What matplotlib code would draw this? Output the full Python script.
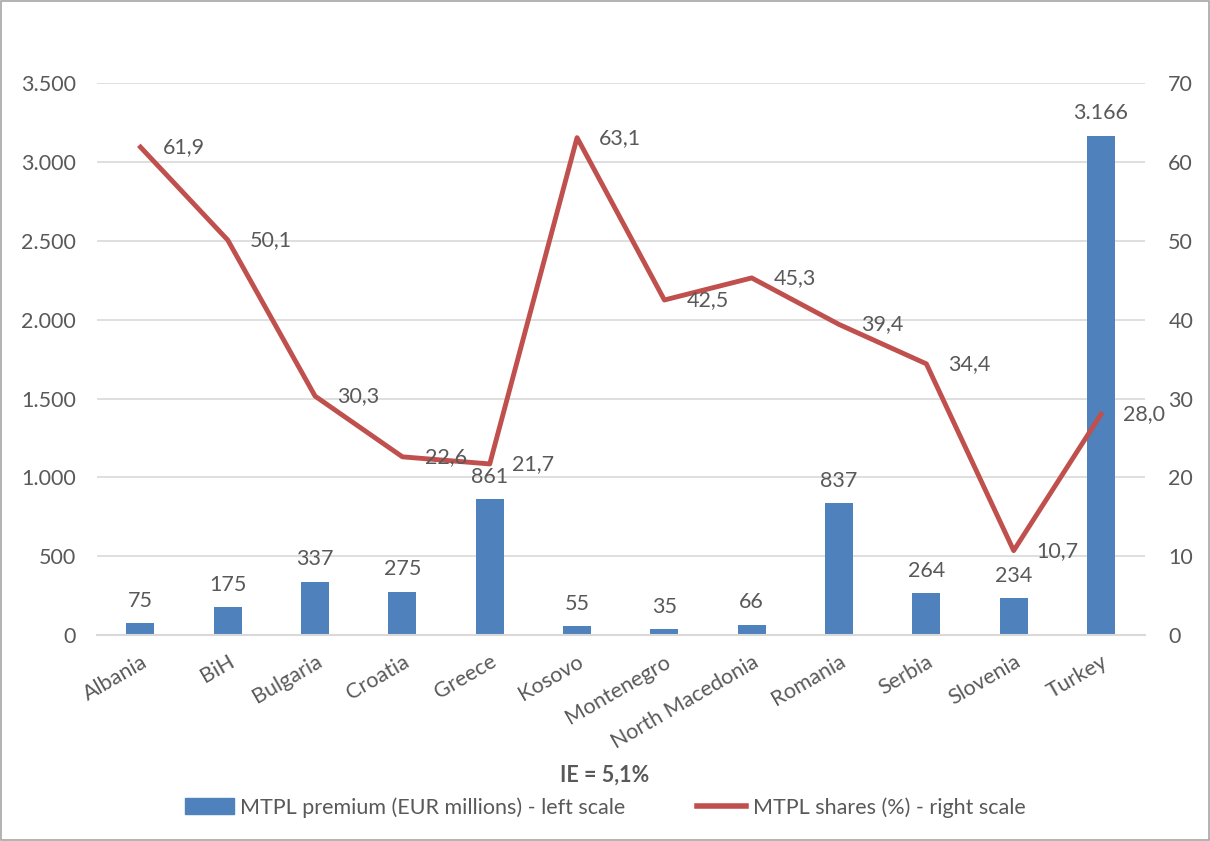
import matplotlib
matplotlib.use("Agg")
import matplotlib.pyplot as plt
from matplotlib.patches import Rectangle, Patch
from matplotlib.lines import Line2D
from matplotlib.ticker import FuncFormatter

countries = ["Albania", "BiH", "Bulgaria", "Croatia", "Greece", "Kosovo", "Montenegro",
             "North Macedonia", "Romania", "Serbia", "Slovenia", "Turkey"]
premium = [75, 175, 337, 275, 861, 55, 35, 66, 837, 264, 234, 3166]
shares = [61.9, 50.1, 30.3, 22.6, 21.7, 63.1, 42.5, 45.3, 39.4, 34.4, 10.7, 28.0]

plt.rcParams['font.family'] = ['Lato', 'DejaVu Sans']
TXT = '#595959'
BLUE = '#4f81bd'
RED = '#c0504d'
FS = 15.5

fig = plt.figure(figsize=(12.1, 8.41), dpi=100)
ax = fig.add_axes([0.080, 0.245, 0.866, 0.656])
ax2 = ax.twinx()

x = list(range(len(countries)))
ax.bar(x, premium, width=0.32, color=BLUE, zorder=2)
ax.set_ylim(0, 3500)
ax.set_yticks(range(0, 3501, 500))
ax.yaxis.set_major_formatter(FuncFormatter(lambda v, p: f"{int(v):,}".replace(",", ".")))
ax.set_xlim(-0.5, len(countries) - 0.5)
ax.set_xticks(x)
ax.set_xticklabels(countries, rotation=30, ha='right', rotation_mode='anchor')
ax.grid(axis='y', color='#d9d9d9', linewidth=1.2, zorder=0)
ax.set_axisbelow(True)
for s in ['top', 'right', 'left']:
    ax.spines[s].set_visible(False)
ax.spines['bottom'].set_color('#d9d9d9')
ax.spines['bottom'].set_linewidth(1.5)
ax.tick_params(axis='y', length=0, labelsize=FS, colors=TXT, pad=15)
ax.tick_params(axis='x', length=0, labelsize=FS, colors=TXT, pad=12)

for xi, v in zip(x, premium):
    ax.annotate(f"{v:,}".replace(",", "."), (xi, v), xytext=(0, 9), textcoords='offset points',
                ha='center', va='bottom', fontsize=FS, color=TXT)

ax2.plot(x, shares, color=RED, linewidth=3.5, zorder=3)
ax2.set_ylim(0, 70)
ax2.set_yticks(range(0, 71, 10))
for s in ax2.spines.values():
    s.set_visible(False)
ax2.tick_params(axis='y', length=0, labelsize=FS, colors=TXT, pad=17)
for xi, v in zip(x, shares):
    ax2.annotate(f"{v:.1f}".replace(".", ","), (xi, v), xytext=(16, 0), textcoords='offset points',
                 ha='left', va='center', fontsize=FS, color=TXT)

fig.text(0.5, 0.078, "IE = 5,1%", ha='center', va='center', fontsize=FS, fontweight='bold', color=TXT)

handles = [Patch(color=BLUE, label="MTPL premium (EUR millions) - left scale"),
           Line2D([0], [0], color=RED, linewidth=4, label="MTPL shares (%) - right scale")]
leg = fig.legend(handles=handles, loc='center', bbox_to_anchor=(0.5, 0.04), ncol=2, frameon=False,
                 fontsize=FS, handlelength=2.3, handleheight=0.8, columnspacing=3.3, handletextpad=0.3)
for t in leg.get_texts():
    t.set_color(TXT)

fig.patches.append(Rectangle((0.001, 0.001), 0.998, 0.998, transform=fig.transFigure,
                             fill=False, edgecolor='#a6a6a6', linewidth=1.2))

fig.savefig("out.png", dpi=100)
